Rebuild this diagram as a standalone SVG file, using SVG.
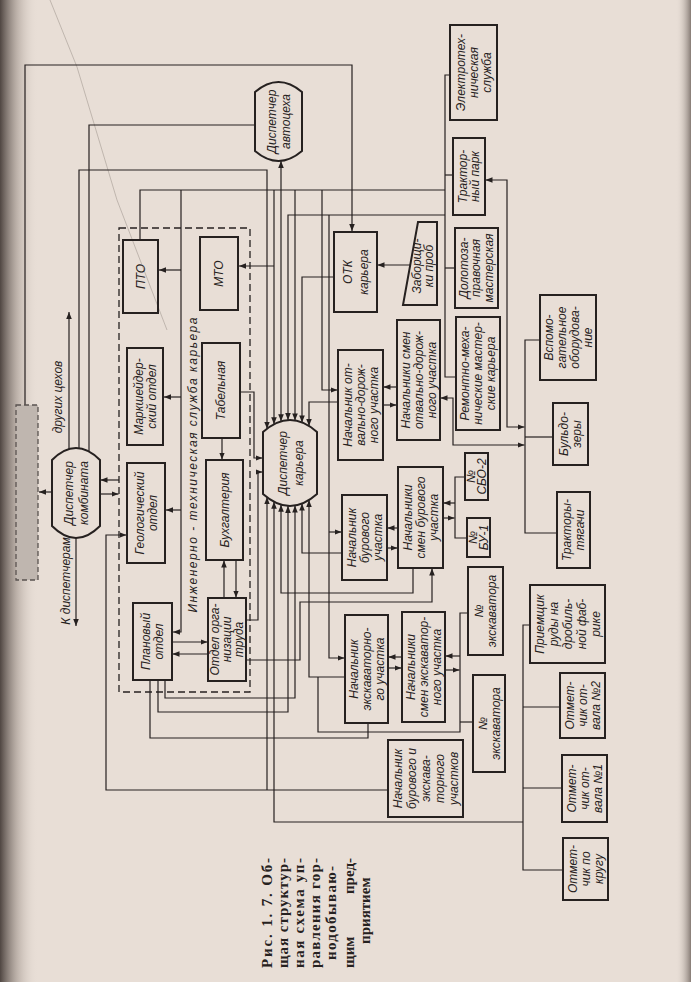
<svg xmlns="http://www.w3.org/2000/svg" width="691" height="982" viewBox="0 0 691 982">
<defs>
<linearGradient id="bind" x1="0" y1="0" x2="1" y2="0">
<stop offset="0" stop-color="#3e3531" stop-opacity="0.9"/>
<stop offset="0.45" stop-color="#8a7e76" stop-opacity="0.45"/>
<stop offset="1" stop-color="#e8ded6" stop-opacity="0"/>
</linearGradient>
<linearGradient id="edge" x1="0" y1="0" x2="1" y2="0">
<stop offset="0" stop-color="#e8ded6" stop-opacity="0"/>
<stop offset="1" stop-color="#6d625c" stop-opacity="0.8"/>
</linearGradient>
<marker id="ah" viewBox="0 0 10 10" refX="10" refY="5" markerWidth="7" markerHeight="7" markerUnits="userSpaceOnUse" orient="auto-start-reverse">
<path d="M0,1 L10,5 L0,9 z" fill="#262120"/>
</marker>
<style>
.box{fill:none;stroke:#262120;stroke-width:2}
.ln{fill:none;stroke:#262120;stroke-width:1.2}
.a{marker-end:url(#ah)}
.b{marker-start:url(#ah)}
.t{font-family:"Liberation Sans","DejaVu Sans",sans-serif;font-style:italic;font-size:12px;fill:#262120;text-anchor:middle}
.cap{font-family:"Liberation Serif","DejaVu Serif",serif;font-weight:bold;font-size:15px;fill:#262120}
</style>
</defs>
<rect x="0" y="0" width="691" height="982" fill="#e8ded6"/>
<rect x="0" y="0" width="38" height="982" fill="url(#bind)"/>
<rect x="676" y="0" width="15" height="982" fill="url(#edge)"/>
<path d="M50,0 L77,67 L117,200 L167,330" fill="none" stroke="#a89e96" stroke-width="0.9" opacity="0.7"/>

<g id="connectors">
<path class="ln a" d="M25,405 V65 H352 V231"/>
<path class="ln" d="M89,451.5 V125 H255"/>
<path class="ln a" d="M79,448.2 V170 H267 V428.7"/>
<path class="ln a" d="M69,449 V312"/>
<path class="ln a" d="M76,538 V626"/>
<path class="ln a" d="M52,492 H39"/>
<path class="ln a" d="M119,480 H100.5"/>
<path class="ln a" d="M100,494 H118.5"/>
<path class="ln" d="M140,240 V190 H445"/>
<path class="ln a" d="M181,190 V632 H173"/>
<path class="ln a" d="M181,270 H159"/>
<path class="ln a" d="M181,397 H164"/>
<path class="ln a" d="M181,510 H166"/>
<path class="ln a" d="M274,190 V424.2"/>
<path class="ln a" d="M274,266 H239"/>
<path class="ln a b" d="M281,421.3 V161"/>
<path class="ln a" d="M445,215 H288 V420.1"/>
<path class="ln a" d="M295,190 V420.4"/>
<path class="ln a" d="M334,277 H302 V422.4"/>
<path class="ln a" d="M338,402 H309 V425.9"/>
<path class="ln a" d="M322,190 V390 H337.5"/>
<path class="ln a" d="M329,215 V658 H344.5"/>
<path class="ln a" d="M329,532 H341.5"/>
<path class="ln" d="M450,75 H445 V377 H456"/>
<path class="ln" d="M445,175 H453"/>
<path class="ln" d="M445,268 H455"/>
<path class="ln a" d="M410,265 H377.5"/>
<path class="ln a b" d="M485.5,180 H507 V427 H524.5"/>
<path class="ln a b" d="M440.5,398 H453 V445 H524.5"/>
<path class="ln a" d="M397,387 H383.5"/>
<path class="ln a" d="M383,405 H396.5"/>
<path class="ln" d="M540,340 H525 V533 H557"/>
<path class="ln" d="M525,437 H553"/>
<path class="ln a" d="M398,528 H387.5"/>
<path class="ln a" d="M387,548 H397.5"/>
<path class="ln" d="M465,477 H455 V538 H467"/>
<path class="ln a" d="M455,503 H443.5"/>
<path class="ln a" d="M443,518 H454.5"/>
<path class="ln a" d="M413,568 V593 H281 V504.7"/>
<path class="ln a" d="M342,553 H302 V503.6"/>
<path class="ln a" d="M246,660 H300 V602 H432 V568.5"/>
<path class="ln a" d="M402,657 H388.5"/>
<path class="ln a" d="M388,668 H401.5"/>
<path class="ln a" d="M460,656 H445.5"/>
<path class="ln a" d="M445,670 H459.5"/>
<path class="ln" d="M468,613 H460 V732 H318 V677"/>
<path class="ln" d="M460,722 H473"/>
<path class="ln a" d="M345,677 H309 V500.1"/>
<path class="ln" d="M150,680 V738 H368 V723"/>
<path class="ln a" d="M158,680 V712 H288 V505.9"/>
<path class="ln a" d="M165,680 V698 H295 V505.6"/>
<path class="ln a" d="M388,790 H106 V535 H126.5"/>
<path class="ln a" d="M267,790 V497.3"/>
<path class="ln" d="M530,625 H523 V870 H563"/>
<path class="ln" d="M523,707 H560"/>
<path class="ln" d="M523,788 H562"/>
<path class="ln a" d="M523,822 H274 V501.8"/>
<path class="ln a" d="M240,392 H254 V458 H262.5"/>
<path class="ln a" d="M246,620 H258 V472 H262.5"/>
<path class="ln a" d="M172,642 H207.5"/>
<path class="ln a" d="M208,654 H172.5"/>
<path class="ln a" d="M222,438 V459.5"/>
<path class="ln a" d="M224,597.5 V560.5"/>
<path class="ln a" d="M236,560 V597.5"/>
</g>

<g id="its-group">
<rect x="119" y="228" width="131" height="464" fill="none" stroke="#262120" stroke-width="1.3" stroke-dasharray="7 4"/>
<text class="t" font-size="13.5" transform="translate(192 465) rotate(-90)"><tspan x="0" y="4.7" textLength="295" lengthAdjust="spacing">Инженерно - техническая служба карьера</tspan></text>
</g>

<g id="grey-box">
<rect x="16" y="405" width="22" height="175" fill="#bfb6af" stroke="#5a5350" stroke-width="1.3" stroke-dasharray="5 3"/>
</g>

<g id="labels">
<text class="t" font-size="12.5" transform="translate(66 581) rotate(-90)"><tspan x="0" y="4.4">К диспетчерам</tspan></text>
<text class="t" font-size="12.5" transform="translate(58 397) rotate(-90)"><tspan x="0" y="4.4">других цехов</tspan></text>
</g>

<g id="disp-avtoceh">
<path class="box" d="M255,92 Q278.5,72 302,92 L302,151 Q278.5,171 255,151 Z"/>
<text class="t" font-size="12.5" transform="translate(278.5 121.5) rotate(-90)"><tspan x="0" y="-2.9">Диспетчер</tspan><tspan x="0" y="11.6">автоцеха</tspan></text>
</g>
<g id="pto">
<rect class="box" x="123" y="240" width="35" height="73"/>
<text class="t" font-size="12.5" transform="translate(140.5 276.5) rotate(-90)"><tspan x="0" y="4.4">ПТО</tspan></text>
</g>
<g id="mto">
<rect class="box" x="200" y="237" width="38" height="73"/>
<text class="t" font-size="12.5" transform="translate(219 273.5) rotate(-90)"><tspan x="0" y="4.4">МТО</tspan></text>
</g>
<g id="marksh">
<rect class="box" x="127" y="348" width="36" height="97"/>
<text class="t" transform="translate(145 396.5) rotate(-90)"><tspan x="0" y="-2.3">Маркшейдер-</tspan><tspan x="0" y="10.7">ский отдел</tspan></text>
</g>
<g id="geo">
<rect class="box" x="127" y="463" width="38" height="100"/>
<text class="t" transform="translate(146 513) rotate(-90)"><tspan x="0" y="-2.3">Геологический</tspan><tspan x="0" y="10.7">отдел</tspan></text>
</g>
<g id="tabel">
<rect class="box" x="202" y="343" width="38" height="95"/>
<text class="t" font-size="12.5" transform="translate(221 390.5) rotate(-90)"><tspan x="0" y="4.4">Табельная</tspan></text>
</g>
<g id="buh">
<rect class="box" x="206" y="460" width="37" height="100"/>
<text class="t" font-size="12.5" transform="translate(224.5 510) rotate(-90)"><tspan x="0" y="4.4">Бухгалтерия</tspan></text>
</g>
<g id="plan">
<rect class="box" x="133" y="603" width="39" height="77"/>
<text class="t" transform="translate(152.5 641.5) rotate(-90)"><tspan x="0" y="-2.3">Плановый</tspan><tspan x="0" y="10.7">отдел</tspan></text>
</g>
<g id="otdel-org">
<rect class="box" x="208" y="598" width="38" height="83"/>
<text class="t" font-size="11" transform="translate(227 639.5) rotate(-90)"><tspan x="0" y="-7.9">Отдел орга-</tspan><tspan x="0" y="3.9">низации</tspan><tspan x="0" y="15.7">труда</tspan></text>
</g>
<g id="disp-komb">
<path class="box" d="M52,460 Q76,436 100,460 L100,526 Q76,550 52,526 Z"/>
<text class="t" font-size="13" transform="translate(76 493) rotate(-90)"><tspan x="0" y="-3.05">Диспетчер</tspan><tspan x="0" y="12.45">комбината</tspan></text>
</g>
<g id="disp-kar">
<path class="box" d="M263,432 Q290,408 317,432 L317,494 Q290,518 263,494 Z"/>
<text class="t" font-size="13.5" transform="translate(290 463) rotate(-90)"><tspan x="0" y="-3.3">Диспетчер</tspan><tspan x="0" y="12.7">карьера</tspan></text>
</g>
<g id="otk">
<rect class="box" x="334" y="232" width="43" height="80"/>
<text class="t" font-size="13" transform="translate(355.5 272) rotate(-90)"><tspan x="0" y="-3.05">ОТК</tspan><tspan x="0" y="12.45">карьера</tspan></text>
</g>
<g id="zabor">
<path class="box" d="M418,222 L437,222 L437,305 L403,305 Z"/>
<text class="t" font-size="11" transform="translate(423 266) rotate(-90)"><tspan x="0" y="-2.4">Заборщи-</tspan><tspan x="0" y="10.1">ки проб</tspan></text>
</g>
<g id="elektro">
<rect class="box" x="450" y="25" width="47" height="95"/>
<text class="t" transform="translate(473.5 72.5) rotate(-90)"><tspan x="0" y="-8.8">Электротех-</tspan><tspan x="0" y="4.2">ническая</tspan><tspan x="0" y="17.2">служба</tspan></text>
</g>
<g id="traktor-park">
<rect class="box" x="453" y="138" width="32" height="77"/>
<text class="t" transform="translate(469 176.5) rotate(-90)"><tspan x="0" y="-2.1">Трактор-</tspan><tspan x="0" y="10.4">ный парк</tspan></text>
</g>
<g id="doloto">
<rect class="box" x="455" y="228" width="43" height="80"/>
<text class="t" font-size="11" transform="translate(476.5 268) rotate(-90)"><tspan x="0" y="-8.65">Долотоза-</tspan><tspan x="0" y="3.85">правочная</tspan><tspan x="0" y="16.35">мастерская</tspan></text>
</g>
<g id="remont">
<rect class="box" x="456" y="317" width="44" height="113"/>
<text class="t" transform="translate(478 373.5) rotate(-90)"><tspan x="0" y="-8.8">Ремонтно-меха-</tspan><tspan x="0" y="4.2">нические мастер-</tspan><tspan x="0" y="17.2">ские карьера</tspan></text>
</g>
<g id="vspomog">
<rect class="box" x="540" y="295" width="56" height="85"/>
<text class="t" transform="translate(568 337.5) rotate(-90)"><tspan x="0" y="-15.3">Вспомо-</tspan><tspan x="0" y="-2.3">гательное</tspan><tspan x="0" y="10.7">оборудова-</tspan><tspan x="0" y="23.7">ние</tspan></text>
</g>
<g id="buldoz">
<rect class="box" x="553" y="403" width="35" height="62"/>
<text class="t" transform="translate(570.5 434) rotate(-90)"><tspan x="0" y="-2.3">Бульдо-</tspan><tspan x="0" y="10.7">зеры</tspan></text>
</g>
<g id="traktory">
<rect class="box" x="557" y="492" width="33" height="76"/>
<text class="t" transform="translate(573.5 530) rotate(-90)"><tspan x="0" y="-2.3">Тракторы-</tspan><tspan x="0" y="10.7">тягачи</tspan></text>
</g>
<g id="nach-otv">
<rect class="box" x="338" y="350" width="45" height="110"/>
<text class="t" transform="translate(360.5 405) rotate(-90)"><tspan x="0" y="-8.8">Начальник от-</tspan><tspan x="0" y="4.2">вально-дорож-</tspan><tspan x="0" y="17.2">ного участка</tspan></text>
</g>
<g id="smen-otv">
<rect class="box" x="397" y="320" width="43" height="120"/>
<text class="t" transform="translate(418.5 380) rotate(-90)"><tspan x="0" y="-8.8">Начальники смен</tspan><tspan x="0" y="4.2">отвально-дорож-</tspan><tspan x="0" y="17.2">ного участка</tspan></text>
</g>
<g id="nach-bur">
<rect class="box" x="342" y="495" width="45" height="85"/>
<text class="t" transform="translate(364.5 537.5) rotate(-90)"><tspan x="0" y="-8.8">Начальник</tspan><tspan x="0" y="4.2">бурового</tspan><tspan x="0" y="17.2">участка</tspan></text>
</g>
<g id="smen-bur">
<rect class="box" x="398" y="467" width="45" height="101"/>
<text class="t" transform="translate(420.5 517.5) rotate(-90)"><tspan x="0" y="-8.8">Начальники</tspan><tspan x="0" y="4.2">смен бурового</tspan><tspan x="0" y="17.2">участка</tspan></text>
</g>
<g id="sbo2">
<rect class="box" x="465" y="453" width="23" height="47"/>
<text class="t" font-size="10.5" transform="translate(476.5 476.5) rotate(-90)"><tspan x="0" y="-1.6">№</tspan><tspan x="0" y="9">СБО-2</tspan></text>
</g>
<g id="bu1">
<rect class="box" x="467" y="518" width="23" height="39"/>
<text class="t" font-size="10.5" transform="translate(478.5 537.5) rotate(-90)"><tspan x="0" y="-1.6">№</tspan><tspan x="0" y="9">БУ-1</tspan></text>
</g>
<g id="ekskavator-1">
<rect class="box" x="468" y="567" width="35" height="88"/>
<text class="t" transform="translate(485.5 611) rotate(-90)"><tspan x="0" y="-2.3">№</tspan><tspan x="0" y="10.7">экскаватора</tspan></text>
</g>
<g id="nach-eksk">
<rect class="box" x="345" y="615" width="43" height="108"/>
<text class="t" transform="translate(366.5 669) rotate(-90)"><tspan x="0" y="-8.8">Начальник</tspan><tspan x="0" y="4.2">экскаваторно-</tspan><tspan x="0" y="17.2">го участка</tspan></text>
</g>
<g id="smen-eksk">
<rect class="box" x="402" y="612" width="43" height="110"/>
<text class="t" transform="translate(423.5 667) rotate(-90)"><tspan x="0" y="-8.8">Начальники</tspan><tspan x="0" y="4.2">смен экскаватор-</tspan><tspan x="0" y="17.2">ного участка</tspan></text>
</g>
<g id="ekskavator-2">
<rect class="box" x="473" y="675" width="32" height="97"/>
<text class="t" transform="translate(489 723.5) rotate(-90)"><tspan x="0" y="-2.3">№</tspan><tspan x="0" y="10.7">экскаватора</tspan></text>
</g>
<g id="nach-bur-eksk">
<rect class="box" x="388" y="740" width="75" height="77"/>
<text class="t" transform="translate(425.5 778.5) rotate(-90)"><tspan x="0" y="-23.8">Начальник</tspan><tspan x="0" y="-9.8">бурового и</tspan><tspan x="0" y="4.2">экскава-</tspan><tspan x="0" y="18.2">торного</tspan><tspan x="0" y="32.2">участков</tspan></text>
</g>
<g id="priemshik">
<rect class="box" x="530" y="585" width="75" height="78"/>
<text class="t" transform="translate(567.5 624) rotate(-90)"><tspan x="0" y="-23.8">Приемщик</tspan><tspan x="0" y="-9.8">руды на</tspan><tspan x="0" y="4.2">дробиль-</tspan><tspan x="0" y="18.2">ной фаб-</tspan><tspan x="0" y="32.2">рике</tspan></text>
</g>
<g id="otmet-2">
<rect class="box" x="560" y="673" width="45" height="65"/>
<text class="t" transform="translate(582.5 705.5) rotate(-90)"><tspan x="0" y="-8.8">Отмет-</tspan><tspan x="0" y="4.2">чик от-</tspan><tspan x="0" y="17.2">вала №2</tspan></text>
</g>
<g id="otmet-1">
<rect class="box" x="562" y="755" width="45" height="67"/>
<text class="t" transform="translate(584.5 788.5) rotate(-90)"><tspan x="0" y="-8.8">Отмет-</tspan><tspan x="0" y="4.2">чик от-</tspan><tspan x="0" y="17.2">вала №1</tspan></text>
</g>
<g id="otmet-krug">
<rect class="box" x="563" y="838" width="45" height="62"/>
<text class="t" transform="translate(585.5 869) rotate(-90)"><tspan x="0" y="-8.8">Отмет-</tspan><tspan x="0" y="4.2">чик по</tspan><tspan x="0" y="17.2">кругу</tspan></text>
</g>

<g id="caption">
<text class="cap" transform="translate(271.5 968) rotate(-90)"><tspan x="0" y="0" textLength="110" lengthAdjust="spacing">Рис. 1. 7. Об-</tspan></text>
<text class="cap" transform="translate(287.5 968) rotate(-90)"><tspan x="0" y="0" textLength="110" lengthAdjust="spacing">щая структур-</tspan></text>
<text class="cap" transform="translate(303.5 968) rotate(-90)"><tspan x="0" y="0" textLength="110" lengthAdjust="spacing">ная схема уп-</tspan></text>
<text class="cap" transform="translate(319.5 968) rotate(-90)"><tspan x="0" y="0" textLength="110" lengthAdjust="spacing">равления гор-</tspan></text>
<text class="cap" transform="translate(335.5 960) rotate(-90)"><tspan x="0" y="0" textLength="94" lengthAdjust="spacing">нодобываю-</tspan></text>
<text class="cap" transform="translate(353.5 968) rotate(-90)"><tspan x="0" y="0">щим</tspan><tspan x="110" y="0" text-anchor="end">пред-</tspan></text>
<text class="cap" transform="translate(369.5 944) rotate(-90)"><tspan x="0" y="0">приятием</tspan></text>
</g>
</svg>
